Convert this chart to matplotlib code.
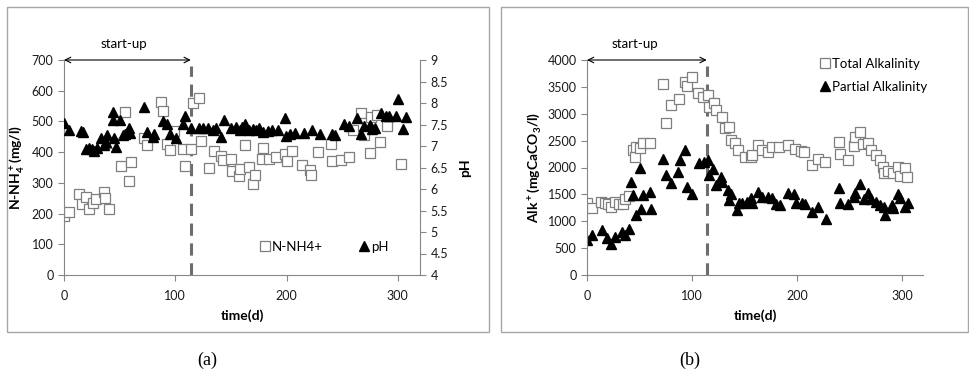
import matplotlib
matplotlib.use("Agg")
import matplotlib.pyplot as plt
from matplotlib.patches import Rectangle

plt.rcParams['font.family'] = ['Lato', 'DejaVu Sans']
plt.rcParams['mathtext.fontset'] = 'custom'
plt.rcParams['mathtext.rm'] = 'Lato'
plt.rcParams['mathtext.bf'] = 'Lato:bold'

# (a) ammonium and pH
nh4_day = [0, 4.5, 13.5, 16, 20, 22.6, 26, 28.6, 36, 37, 40, 43, 51, 55, 58, 60, 72, 75,
           87, 89, 93, 95, 99, 107, 109, 114, 116, 121, 123, 130, 135, 141, 143, 150, 151,
           157, 158, 163, 166, 170, 172, 178, 179, 184, 191, 199, 200, 205, 214, 221, 222,
           228, 240, 241, 249, 256, 260, 267, 270, 275, 276, 281, 284, 290, 303]
nh4 = [192, 206, 264, 231, 255, 214, 233, 246, 271, 250, 214, 429, 356, 532, 305, 369, 446, 423,
       563, 535, 427, 407, 470, 410, 355, 410, 559, 575, 436, 347, 404, 388, 374, 377, 340,
       322, 346, 423, 351, 295, 326, 377, 413, 377, 385, 394, 372, 405, 358, 342, 326,
       402, 427, 371, 373, 385, 472, 527, 456, 398, 516, 521, 434, 485, 361]

ph_day = [0, 4.5, 15, 17, 20, 22.6, 25, 27, 30, 33, 36, 38, 39, 43.6, 44, 45, 46.6, 50, 52.7,
          55, 58, 59, 72, 75, 80, 81, 89, 93, 95, 101, 107, 109, 114, 121, 125, 129, 134, 137,
          141, 144, 150, 155, 158, 160, 163, 166, 170, 173, 175, 179, 183, 187, 192, 199, 200,
          203, 208, 216, 223, 230, 241, 244, 252, 256, 263, 267, 270, 275, 277, 280, 285, 289,
          292, 298, 300, 305, 307]
ph = [7.53, 7.37, 7.36, 7.33, 6.92, 6.95, 6.93, 6.89, 6.95, 7.18, 7.02, 7.1, 7.26, 7.80, 7.6,
      7.18, 6.98, 7.6, 7.26, 7.28, 7.43, 7.31, 7.9, 7.33, 7.2, 7.28, 7.57, 7.51, 7.29, 7.18,
      7.51, 7.70, 7.43, 7.43, 7.41, 7.43, 7.37, 7.41, 7.2, 7.6, 7.43, 7.45, 7.38, 7.45, 7.51,
      7.37, 7.4, 7.37, 7.42, 7.33, 7.35, 7.37, 7.38, 7.64, 7.23, 7.28, 7.3, 7.3, 7.38, 7.28,
      7.28, 7.25, 7.52, 7.46, 7.64, 7.28, 7.46, 7.5, 7.4, 7.42, 7.76, 7.7, 7.7, 7.7, 8.1,
      7.4, 7.67]

# (b) alkalinity
ta_day = [0, 5, 13, 17, 20, 23, 26.5, 30, 34, 36, 40, 44, 45.5, 47, 50, 53, 60, 72, 75.5, 80,
          88, 93, 95, 100, 105.5, 110, 115, 116, 121, 123, 128.6, 131, 135, 137, 141, 144,
          150, 156, 157.6, 163, 167, 172, 176.6, 183, 191, 198, 203.5, 206.6, 214, 220, 227,
          240, 241.4, 249, 254, 255.6, 260, 262.6, 268, 270.8, 275, 279, 281.5, 283, 287,
          291, 296, 298, 303, 304.6]
ta = [1345, 1240, 1364, 1345, 1320, 1271, 1364, 1330, 1320, 1408, 1476, 2326, 2202, 2388, 2357,
      2450, 2462, 3553, 2834, 3163, 3268, 3585, 3516, 3690, 3380, 3318, 3349, 3131, 3194, 3070,
      2945, 2729, 2747, 2512, 2462, 2326, 2190, 2190, 2233, 2419, 2326, 2295, 2388, 2376,
      2419, 2339, 2313, 2295, 2047, 2152, 2108, 2480, 2251, 2140, 2400, 2573, 2666, 2437,
      2462, 2326, 2233, 2140, 2004, 1892, 1940, 1903, 2004, 1842, 1985, 1829]

pa_day = [0, 5, 14, 19, 22.5, 26.5, 33, 36, 40, 42, 44, 47, 50, 51, 53, 60, 60.5, 72, 75.5,
          80, 86.5, 89, 93, 95, 100, 106.5, 111, 115, 116, 120, 123, 127.7, 128.6, 134, 135,
          137, 142.5, 145, 148, 152, 156, 157.6, 163, 167, 172, 176.6, 180, 183.6, 191, 197,
          199, 205, 208, 214, 220, 228, 240, 241.4, 249, 254, 255.6, 260, 263.5, 267.6, 270,
          275, 279, 282.5, 284, 290, 291, 296, 298, 303, 305.5]
pa = [651, 744, 837, 683, 577, 713, 806, 744, 850, 1736, 1488, 1116, 1985, 1222, 1488, 1550,
      1222, 2152, 1860, 1705, 1922, 2140, 2326, 1643, 1507, 2078, 2108, 2140, 1860, 1967, 1674,
      1829, 1736, 1581, 1395, 1507, 1209, 1345, 1345, 1364, 1427, 1345, 1550, 1457, 1445,
      1427, 1321, 1302, 1520, 1507, 1333, 1333, 1321, 1178, 1259, 1036, 1612, 1333, 1321,
      1457, 1531, 1693, 1408, 1520, 1408, 1364, 1302, 1259, 1116, 1302, 1240, 1507, 1427,
      1271, 1333]

startup_end = 114

W, H = 969, 378
fig = plt.figure(figsize=(W / 100, H / 100), dpi=100)

# panel frames
for x0, x1 in [(7, 489), (501, 968)]:
    fig.add_artist(Rectangle((x0 / W, 1 - 332 / H), (x1 - x0) / W, (332 - 7) / H,
                             transform=fig.transFigure, fill=False,
                             edgecolor='#a6a6a6', lw=1.0))

grey = '#868686'
txt = '#1a1a1a'
sq = dict(marker='s', ms=7.5, mfc='white', mec='#7f7f7f', mew=0.9, ls='none')
tri = dict(marker='^', ms=7.5, color='black', ls='none')


def style(ax):
    for s in ['top', 'right']:
        ax.spines[s].set_visible(False)
    for s in ['left', 'bottom']:
        ax.spines[s].set_color(grey)
    ax.tick_params(colors=grey, labelcolor=txt, labelsize=9, length=4, width=0.8)
    ax.tick_params(axis='x', pad=7)
    ax.set_xlim(0, 320)
    ax.set_xticks([0, 100, 200, 300])
    ax.set_xlabel('time(d)', fontsize=10, fontweight='bold', labelpad=5)


def startup(ax, ytop, tx):
    ax.annotate('', xy=(0, ytop), xytext=(startup_end, ytop),
                arrowprops=dict(arrowstyle='<->', lw=0.8, color='black',
                                shrinkA=0, shrinkB=0), annotation_clip=False)
    ax.annotate('start-up', xy=(tx, ytop), xytext=(0, 7), textcoords='offset points',
                ha='center', va='bottom', fontsize=9.5, annotation_clip=False)


# ---- (a)
ax1 = fig.add_axes([64 / W, 1 - 275 / H, (420 - 64) / W, 215 / H])
style(ax1)
ax1.set_ylim(0, 700)
ax1.set_yticks(range(0, 701, 100))
ax1.axvline(startup_end, color='#6d6d6d', lw=2.2, ls=(0, (4, 2.5)), ymax=0.97)
h1, = ax1.plot(nh4_day, nh4, **sq, label='N-NH4+')
ax1.set_ylabel(r'N-NH$_{\bf 4}^{\bf +}$(mg/l)', fontsize=10, fontweight='bold', labelpad=3)
startup(ax1, 700, 54)

ax1r = ax1.twinx()
ax1r.set_ylim(4, 9)
ax1r.set_yticks([4 + 0.5 * i for i in range(11)])
ax1r.set_yticklabels(['4', '4.5', '5', '5.5', '6', '6.5', '7', '7.5', '8', '8.5', '9'])
for s in ['top', 'left', 'bottom']:
    ax1r.spines[s].set_visible(False)
ax1r.spines['right'].set_color(grey)
ax1r.tick_params(colors=grey, labelcolor=txt, labelsize=9, length=4, width=0.8)
h2, = ax1r.plot(ph_day, ph, **tri, label='pH')
ax1r.set_ylabel('pH', fontsize=10, fontweight='bold', labelpad=8)
ax1r.legend([h1, h2], ['N-NH4+', 'pH'], ncol=2, frameon=False, fontsize=9.5,
            loc='center left', bbox_to_anchor=(258 / W, 1 - 247 / H),
            bbox_transform=fig.transFigure, handletextpad=0.05, columnspacing=2.6,
            handlelength=1.0, borderaxespad=0, borderpad=0)

# ---- (b)
ax2 = fig.add_axes([587 / W, 1 - 275 / H, (923 - 587) / W, 215 / H])
style(ax2)
ax2.set_ylim(0, 4000)
ax2.set_yticks(range(0, 4001, 500))
ax2.axvline(startup_end, color='#6d6d6d', lw=2.2, ls=(0, (4, 2.5)), ymax=0.97)
h3, = ax2.plot(ta_day, ta, **sq, label='Total Alkalinity')
h4, = ax2.plot(pa_day, pa, **tri, label='Partial Alkalinity')
ax2.set_ylabel(r'Alk$^{\bf +}$(mgCaCO$_{\bf 3}$/l)', fontsize=10, fontweight='bold', labelpad=3)
startup(ax2, 4000, 46)
ax2.legend([h3, h4], ['Total Alkalinity', 'Partial Alkalinity'], frameon=False, fontsize=9.5,
           loc='upper left', bbox_to_anchor=(818 / W, 1 - 58 / H),
           bbox_transform=fig.transFigure, handletextpad=0.05, labelspacing=0.8,
           handlelength=1.0, borderaxespad=0, borderpad=0)

fig.text(207 / W, 1 - 360 / H, '(a)', ha='center', va='center', fontsize=13,
         family='Liberation Serif')
fig.text(690 / W, 1 - 360 / H, '(b)', ha='center', va='center', fontsize=13,
         family='Liberation Serif')

fig.savefig('out.png', dpi=100)
